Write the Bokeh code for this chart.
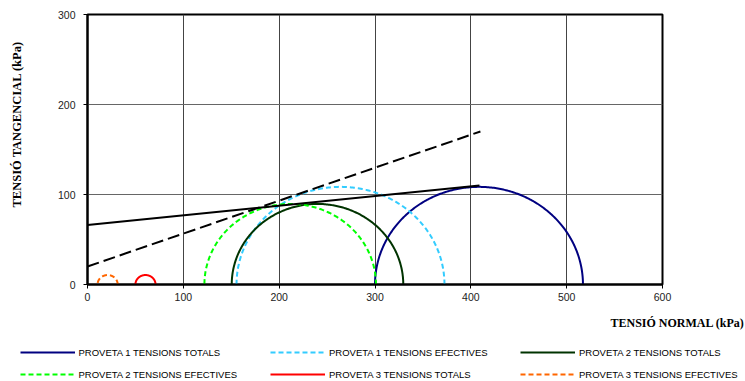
import numpy as np
from bokeh.plotting import figure
from bokeh.layouts import row, column
from bokeh.models import FixedTicker, Legend, LegendItem
from bokeh.core.properties import value
from bokeh.embed import file_html
from bokeh.resources import INLINE

# ---- data ----
series_names = ["PROVETA 1 TENSIONS TOTALS", "PROVETA 1 TENSIONS EFECTIVES",
                "PROVETA 2 TENSIONS TOTALS", "PROVETA 2 TENSIONS EFECTIVES",
                "PROVETA 3 TENSIONS TOTALS", "PROVETA 3 TENSIONS EFECTIVES"]
circle_centers = [408.5, 264.0, 240.0, 211.5, 60.5, 21.0]
circle_radii = [108.5, 108.5, 89.5, 89.5, 10.5, 10.5]
series_colors = ["#000080", "#33CCFF", "#003300", "#00FF00", "#FF0000", "#FF6600"]
series_dashed = [False, True, False, True, False, True]

env_total_x = [0, 409]
env_total_y = [66, 110]
env_eff_x = [0, 410]
env_eff_y = [20, 170]

x_ticks = [0, 100, 200, 300, 400, 500, 600]
y_ticks = [0, 100, 200, 300]

x_title = "TENSIÓ NORMAL (kPa)"
y_title = "TENSIÓ TANGENCIAL (kPa)"

FONT = "Liberation Sans"
SERIF = "Liberation Serif"

W, H = 745, 381
LW = 40          # width of the left strip holding the y title
TOP_H = 310      # height of the main chart row
BOT_H = H - TOP_H

# ---- main chart ----
p = figure(width=W - LW, height=TOP_H, x_range=(0, 600), y_range=(0, 300),
           output_backend="svg", toolbar_location=None,
           min_border_left=87 - LW, min_border_right=W - 662,
           min_border_top=14, min_border_bottom=TOP_H - 284)
p.background_fill_color = "white"
p.border_fill_color = "white"
p.outline_line_color = "black"
p.outline_line_width = 2

for ax, ticks in ((p.xaxis, x_ticks), (p.yaxis, y_ticks)):
    ax.ticker = FixedTicker(ticks=ticks)
    ax.axis_line_color = "black"
    ax.axis_line_width = 2
    ax.major_tick_line_color = "black"
    ax.major_tick_line_width = 1
    ax.major_tick_out = 4
    ax.major_tick_in = 0
    ax.minor_tick_line_color = None
    ax.major_label_text_font = FONT
    ax.major_label_text_font_size = "10.5px"
    ax.major_label_text_color = "#222222"
p.xaxis.major_label_standoff = 4
p.yaxis.major_label_standoff = 8

p.xgrid.ticker = FixedTicker(ticks=x_ticks[1:-1])
p.ygrid.ticker = FixedTicker(ticks=y_ticks[1:-1])
p.xgrid.grid_line_color = "#444444"
p.ygrid.grid_line_color = "#666666"

theta = np.linspace(0, np.pi, 241)
for name, c, r, col, dashed in zip(series_names, circle_centers, circle_radii,
                                   series_colors, series_dashed):
    p.line(c + r * np.cos(theta), r * np.sin(theta), line_color=col, line_width=2,
           line_dash="5 3" if dashed else "solid")

p.line(env_total_x, env_total_y, line_color="black", line_width=2)
p.line(env_eff_x, env_eff_y, line_color="black", line_width=2, line_dash="12 5")

# ---- helper for plain strips ----
def blank(width, height):
    f = figure(width=width, height=height, x_range=(0, width), y_range=(0, height),
               output_backend="svg", toolbar_location=None,
               x_axis_type=None, y_axis_type=None,
               min_border=0, min_border_left=0, min_border_right=0,
               min_border_top=0, min_border_bottom=0)
    f.outline_line_color = None
    f.background_fill_color = "white"
    f.border_fill_color = "white"
    f.grid.visible = False
    return f

# ---- left strip with the y title ----
left = blank(LW, TOP_H)
left.text(x=[16], y=[TOP_H - 126], text=[y_title], angle=np.pi / 2,
          text_align="center", text_baseline="middle",
          text_font=value(SERIF), text_font_style="bold", text_font_size="12.5px",
          text_color="black")

# ---- bottom strip with x title and legend ----
bot = blank(W, BOT_H)
bot.text(x=[744], y=[H - 322], text=[x_title],
         text_align="right", text_baseline="middle",
         text_font=value(SERIF), text_font_style="bold", text_font_size="12px",
         text_color="black")

col_x = [19.5, 270, 520]
row_center = [352, 374]
nan2 = [float("nan"), float("nan")]
for i, (name, col, dashed) in enumerate(zip(series_names, series_colors, series_dashed)):
    # invisible proxy renderer (NaN data) so the legend can draw the line sample
    rr = bot.line(nan2, nan2, line_color=col, line_width=2,
                  line_dash="5 3" if dashed else "solid")
    lg = Legend(items=[LegendItem(label=name, renderers=[rr])],
                location=(col_x[i % 3], H - (row_center[i // 3] + 6)),
                orientation="horizontal",
                glyph_width=55, glyph_height=12, label_height=12,
                label_standoff=4, padding=0, margin=0, spacing=0,
                border_line_color=None, background_fill_alpha=0,
                label_text_font=FONT, label_text_font_size="9.5px",
                label_text_color="black")
    bot.add_layout(lg, "center")

layout = column(row(left, p, spacing=0), bot, spacing=0)
open("out.html", "w").write(file_html(layout, INLINE))
